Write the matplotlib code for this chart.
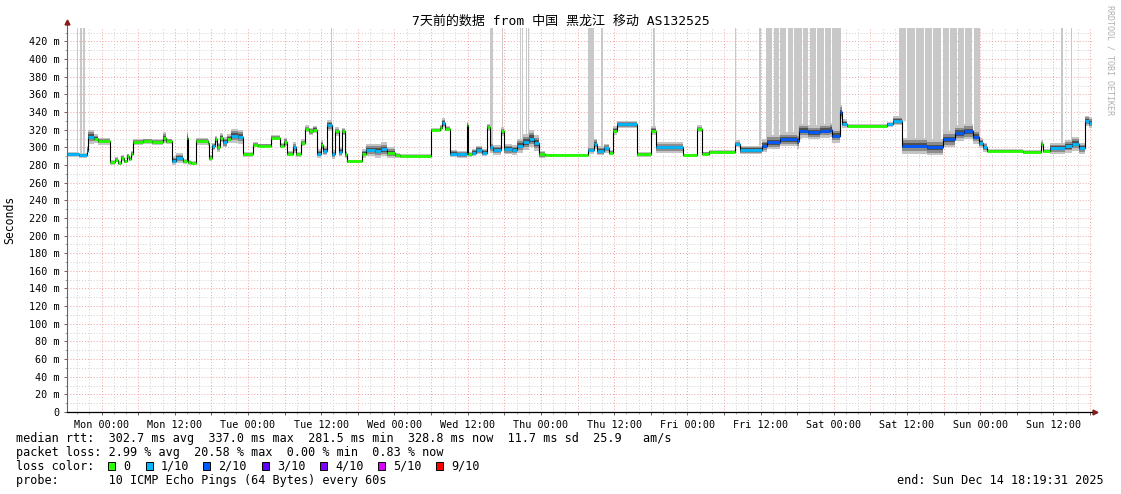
'''SmokePing 7-day chart: median rtt with loss colours and smoke'''

import datetime as dt
import numpy as np
import matplotlib
matplotlib.use('Agg')
import matplotlib.pyplot as plt
import matplotlib.dates as mdates
from matplotlib.ticker import MultipleLocator, FuncFormatter
from matplotlib.patches import Rectangle

plt.rcParams['font.family'] = ['DejaVu Sans Mono', 'Noto Sans CJK SC']

start = dt.datetime(2025, 12, 7, 18, 19, 31)
end = dt.datetime(2025, 12, 14, 18, 19, 31)

# median rtt as steps: hours after start, ms, lost pings (of 10), smoke spread ms
step_hours = [0.0, 2.0, 3.3, 3.5, 4.5, 5.0, 7.0, 7.8, 8.4, 8.8, 9.4, 9.8, 10.2, 10.5,
              10.8, 12.5, 14.0, 15.8, 16.3, 17.2, 17.8, 19.0, 19.6, 19.9, 20.4, 21.1,
              23.1, 23.3, 23.8, 24.2, 24.6, 25.0, 25.6, 26.2, 26.8, 28.0, 28.9, 30.5,
              31.3, 33.4, 34.9, 35.6, 36.1, 37.0, 37.5, 38.3, 39.0, 39.7, 40.3, 41.0,
              41.6, 42.0, 42.6, 43.4, 44.0, 44.5, 45.1, 45.6, 45.9, 48.4, 49.0, 50.5,
              51.5, 52.5, 53.8, 54.5, 59.6, 61.2, 61.5, 61.9, 62.8, 64.0, 65.5, 65.8,
              66.3, 67.0, 68.0, 68.9, 69.3, 69.8, 71.2, 71.6, 73.0, 73.8, 74.8, 75.8,
              76.5, 77.4, 78.3, 85.4, 86.3, 86.8, 88.0, 88.8, 89.5, 90.2, 93.5, 95.8,
              96.6, 101.0, 103.3, 104.0, 105.3, 109.5, 110.3, 113.9, 114.7, 116.9,
              119.7, 119.9, 121.5, 123.5, 125.1, 125.4, 126.7, 127.0, 127.8, 134.4,
              135.4, 136.9, 141.0, 143.5, 145.5, 147.0, 148.5, 149.5, 150.2, 150.8,
              156.7, 159.7, 160.0, 161.1, 163.5, 164.8, 165.8, 166.9, 167.5]
median_ms = [292, 291, 296, 312, 310, 307, 283, 286, 282, 288, 284, 290, 287, 293,
             306, 307, 306, 311, 307, 285, 288, 284, 311, 283, 282, 307,
             305, 288, 301, 309, 300, 311, 306, 310, 313, 312, 292, 303,
             302, 311, 302, 306, 293, 300, 292, 305, 321, 318, 320, 293,
             303, 296, 325, 292, 318, 295, 318, 292, 284, 293, 297, 296,
             298, 294, 291, 290, 320, 322, 328, 321, 293, 292, 325, 292,
             294, 297, 294, 323, 300, 297, 318, 298, 297, 302, 306, 310,
             305, 292, 291, 297, 304, 296, 299, 294, 319, 326, 292, 319,
             300, 291, 321, 293, 295, 304, 297, 302, 306, 309,
             307, 319, 317, 319, 320, 313, 340, 327, 324, 326,
             330, 302, 300, 309, 316, 318, 312, 305, 300, 296,
             295, 304, 296, 299, 301, 304, 299, 330, 328]
loss_tenths = [1, 1, 1, 1, 0, 0, 0, 0, 0, 0, 0, 0, 0, 0,
               0, 0, 0, 0, 0, 1, 1, 0, 0, 0, 0, 0,
               0, 0, 1, 0, 0, 0, 1, 0, 1, 1, 0, 0,
               0, 0, 0, 0, 0, 1, 0, 0, 0, 0, 0, 1,
               0, 1, 1, 1, 0, 1, 0, 0, 0, 0, 1, 1,
               1, 0, 0, 0, 0, 0, 1, 0, 1, 1, 0, 0,
               1, 1, 1, 0, 1, 1, 0, 1, 1, 1, 1, 1,
               1, 0, 0, 1, 1, 1, 1, 0, 0, 1, 0, 0,
               1, 0, 0, 0, 0, 1, 1, 2, 2, 2,
               2, 2, 2, 2, 2, 2, 2, 1, 0, 1,
               1, 2, 2, 2, 2, 2, 2, 1, 1, 0,
               0, 0, 0, 1, 1, 1, 1, 1, 1]
smoke_ms = [3, 3, 6, 8, 5, 4, 3, 3, 2, 3, 2, 3, 2, 3,
            3, 3, 3, 6, 3, 5, 6, 3, 6, 3, 2, 4,
            4, 3, 4, 4, 5, 5, 6, 5, 8, 8, 3, 3,
            2, 3, 3, 5, 3, 6, 3, 4, 4, 4, 4, 5,
            5, 5, 6, 5, 5, 5, 4, 4, 2, 5, 7, 8,
            8, 6, 3, 2, 2, 3, 5, 3, 4, 4, 4, 3,
            4, 5, 4, 4, 6, 6, 5, 6, 6, 8, 9, 10,
            9, 4, 2, 4, 6, 5, 5, 3, 5, 4, 3, 5,
            6, 2, 4, 2, 2, 4, 5, 7, 8, 8,
            9, 8, 8, 8, 8, 8, 8, 5, 2, 3,
            5, 9, 9, 9, 9, 9, 8, 6, 5, 2,
            2, 4, 2, 6, 7, 8, 6, 6, 6]

# spans where the slowest ping went off the top of the chart (hours after start)
spike_from = [0.74, 1.23, 1.64, 2.21, 2.70, 43.35, 63.35, 66.96, 67.45, 69.40, 69.70,
              71.30, 74.20, 74.60, 75.20, 75.60, 85.40, 87.60, 96.10, 109.55, 113.50,
              114.6, 115.8, 116.9, 118.1, 119.2, 120.6, 121.7, 123.0, 124.2, 125.4,
              136.4, 137.7, 139.2, 140.6, 141.9, 143.6, 144.8, 146.1, 147.2, 148.6,
              163.0, 164.6]
spike_to = [0.90, 1.39, 1.80, 2.38, 2.87, 43.50, 63.50, 67.10, 67.60, 69.60, 69.90,
            71.50, 74.35, 74.75, 75.40, 75.80, 86.40, 87.80, 96.30, 109.70, 113.70,
            115.6, 116.7, 117.9, 119.0, 120.4, 121.5, 122.8, 124.0, 125.2, 126.8,
            137.5, 139.0, 140.4, 141.7, 143.2, 144.6, 145.9, 147.0, 148.4, 149.7,
            163.2, 164.8]

loss_labels = ['0', '1/10', '2/10', '3/10', '4/10', '5/10', '9/10']
loss_colors = ['#26ff00', '#00b8ff', '#0059ff', '#5e00ff', '#7e00ff', '#dd00ff', '#ff0000']
loss_color_of = {0: '#26ff00', 1: '#00b8ff', 2: '#0059ff', 3: '#5e00ff',
                 4: '#7e00ff', 5: '#dd00ff', 9: '#ff0000'}

W, H = 1121, 494
Y_TOP = 435.3

fig = plt.figure(figsize=(W / 100, H / 100), dpi=100)
ax = fig.add_axes([67 / W, 82 / H, 1025 / W, 384 / H])

times = [start + dt.timedelta(hours=h) for h in step_hours] + [end]
med = np.array(median_ms + [median_ms[-1]], dtype=float)
spread = np.array(smoke_ms + [smoke_ms[-1]], dtype=float)

# off-chart spikes: from the median up to the top
for h0, h1 in zip(spike_from, spike_to):
    k = np.searchsorted(step_hours, h0, side='right') - 1
    base = median_ms[k]
    t0 = mdates.date2num(start + dt.timedelta(hours=h0))
    t1 = mdates.date2num(start + dt.timedelta(hours=h1))
    ax.bar(t0, Y_TOP - base, bottom=base, width=t1 - t0, align='edge',
           color='#c8c8c8', lw=0, zorder=1.5)

# smoke
for frac, col in [(1.0, '#c4c4c4'), (0.65, '#8c8c8c'), (0.35, '#505050')]:
    ax.fill_between(times, med - spread * frac, med + spread * frac, step='post',
                    color=col, lw=0, zorder=2)

ax.step(times, med, where='post', color='black', lw=0.8, zorder=3)
ax.hlines(median_ms, times[:-1], times[1:],
          colors=[loss_color_of[l] for l in loss_tenths], lw=2.0, zorder=4)

ax.set_xlim(start, end)
ax.set_ylim(0, Y_TOP)

# grid
ax.xaxis.set_major_locator(mdates.HourLocator(byhour=[0, 6, 12, 18]))
ax.xaxis.set_minor_locator(mdates.HourLocator(interval=2))


def xfmt(v, pos):
    d = mdates.num2date(v)
    return d.strftime('%a %H:%M') if d.hour % 12 == 0 else ''


ax.xaxis.set_major_formatter(FuncFormatter(xfmt))
ax.yaxis.set_major_locator(MultipleLocator(20))
ax.yaxis.set_minor_locator(MultipleLocator(10))
ax.yaxis.set_major_formatter(FuncFormatter(lambda v, p: '0' if v == 0 else f'{int(v)} m'))

ax.set_axisbelow(True)
ax.grid(which='minor', color='#cfcfcf', ls=(0, (1, 2)), lw=0.7)
ax.grid(which='major', color='#f2a0a0', ls=(0, (1, 2)), lw=0.7)

ax.tick_params(axis='both', which='major', labelsize=7.3, length=2.5, width=0.7, pad=3,
               colors='#666666', labelcolor='black')
ax.tick_params(axis='both', which='minor', length=1.5, width=0.6, colors='#999999')

for side in ['top', 'right']:
    ax.spines[side].set_visible(False)
ax.spines['left'].set_color('#666666')
ax.spines['left'].set_linewidth(0.8)
ax.spines['bottom'].set_color('black')
ax.spines['bottom'].set_linewidth(0.9)

# axis extensions with arrows
ax.plot([0, 0], [1, 1 + 5 / 384], transform=ax.transAxes, color='#666666', lw=0.8,
        clip_on=False)
ax.plot([0], [1 + 6 / 384], marker='^', ms=3.5, color='#8b1a1a', transform=ax.transAxes,
        clip_on=False)
ax.plot([1, 1 + 1 / 1025], [0, 0], transform=ax.transAxes, color='black', lw=0.9,
        clip_on=False)
ax.plot([1 + 3 / 1025], [0], marker='>', ms=3.5, color='#8b1a1a', transform=ax.transAxes,
        clip_on=False)

# texts
fig.text(0.5, 1 - 21 / H, '7天前的数据 from 中国 黑龙江 移动 AS132525', ha='center', va='center',
         fontsize=9.4)
fig.text(10 / W, 1 - 220 / H, 'Seconds', rotation=90, ha='center', va='center', fontsize=8.3)
fig.text(1110 / W, 1 - 5 / H, 'RRDTOOL / TOBI OETIKER', rotation=270, ha='center', va='top',
         fontsize=6, color='#b0b0b0')

fs = 8.5
fig.text(16 / W, 1 - 438 / H,
         'median rtt:  302.7 ms avg  337.0 ms max  281.5 ms min  328.8 ms now  11.7 ms sd  25.9   am/s',
         ha='left', va='center', fontsize=fs)
fig.text(16 / W, 1 - 452 / H,
         'packet loss: 2.99 % avg  20.58 % max  0.00 % min  0.83 % now',
         ha='left', va='center', fontsize=fs)
fig.text(16 / W, 1 - 466 / H, 'loss color:', ha='left', va='center', fontsize=fs)
box_x = [108, 146, 203, 262, 320, 378, 436]
for bx, lab, col in zip(box_x, loss_labels, loss_colors):
    fig.patches.append(Rectangle((bx / W, (H - 470) / H), 7 / W, 8 / H, facecolor=col,
                                 edgecolor='black', lw=0.7, transform=fig.transFigure))
    fig.text((bx + 15) / W, 1 - 466 / H, lab, ha='left', va='center', fontsize=fs)
fig.text(16 / W, 1 - 480 / H, 'probe:       10 ICMP Echo Pings (64 Bytes) every 60s',
         ha='left', va='center', fontsize=fs)
fig.text(1104 / W, 1 - 480 / H, 'end: Sun Dec 14 18:19:31 2025', ha='right', va='center',
         fontsize=fs)

fig.savefig('out.png', dpi=100, facecolor='white')
